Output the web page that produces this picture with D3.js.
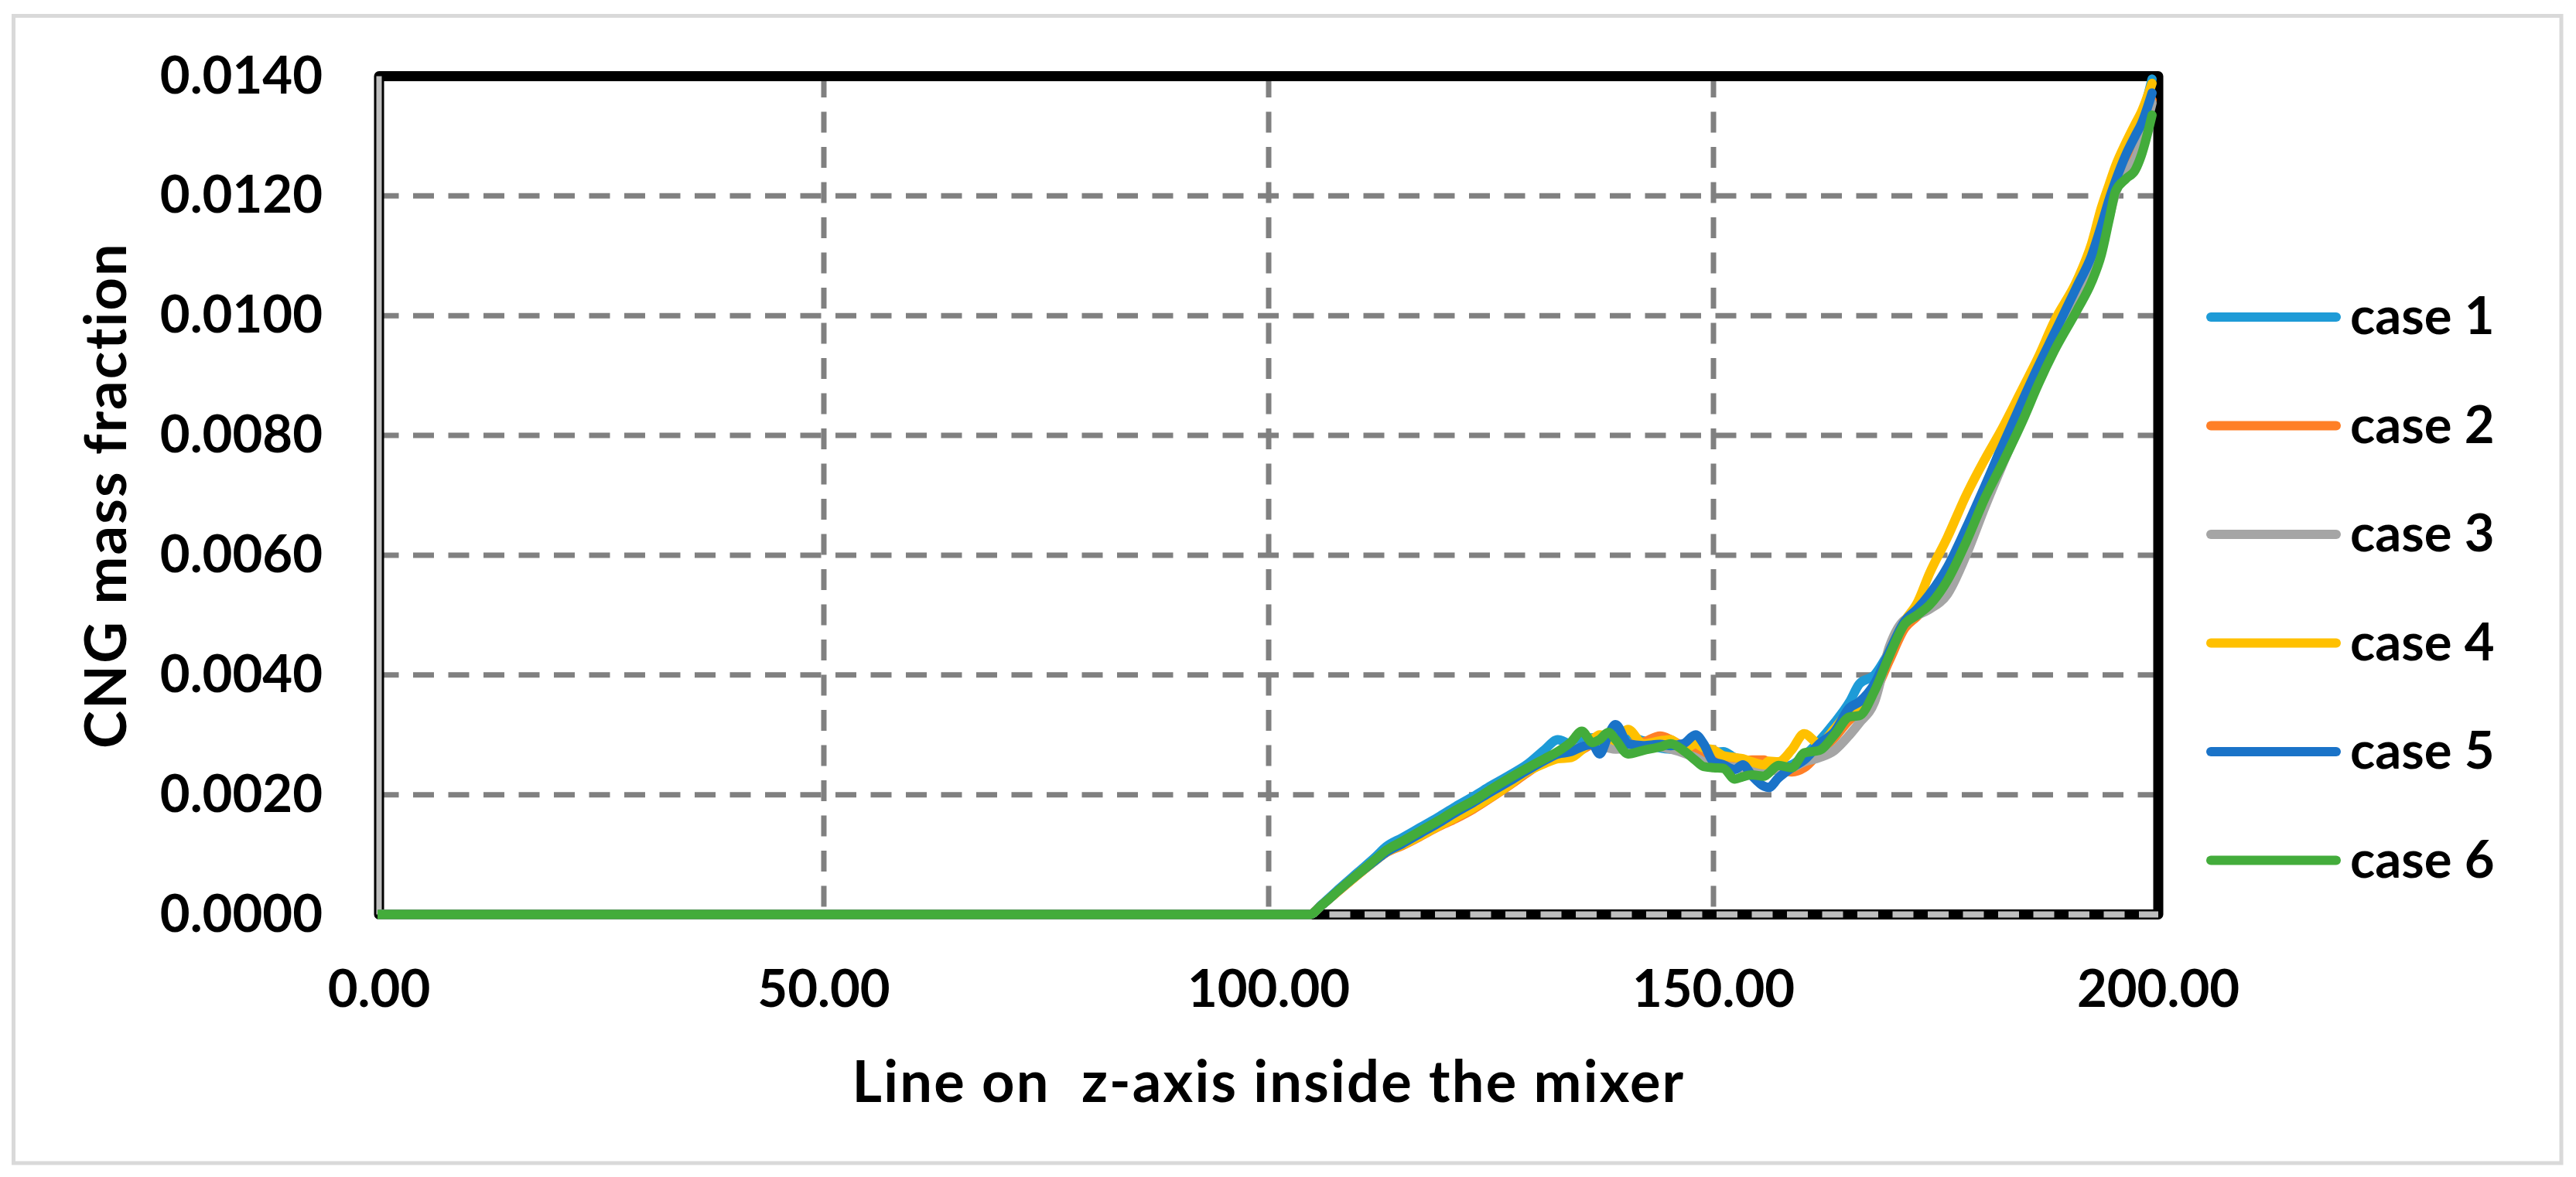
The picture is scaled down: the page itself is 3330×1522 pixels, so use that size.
<!DOCTYPE html>
<html>
<head>
<meta charset="utf-8">
<script src="https://cdn.jsdelivr.net/npm/d3@7"></script>
<style>
  html, body { margin: 0; padding: 0; background: #ffffff; }
  svg { display: block; }
  text { font-family: "Lato", "Open Sans", "Liberation Sans", sans-serif; font-weight: 700; fill: #000; }
</style>
</head>
<body>
<svg id="chart" width="3330" height="1522"></svg>
<script>
// ---------------- data ----------------
const xValues = [0, 104.6, 106, 108, 110, 112, 113.2, 115, 117, 119,
  121, 123, 125, 127, 129, 131, 132.5, 134, 135.2, 136.4,
  137.2, 138.2, 139, 140.4, 142.1, 144, 145.2, 146.6, 148, 148.9,
  150, 151.1, 152.4, 153.3, 154.3, 155.7, 156.2, 157.3, 158.8, 160.2,
  161.9, 163.6, 165.3, 166.4, 168.1, 169.8, 171.5, 172.9, 174.3, 176.3,
  178.4, 180.5, 182.4, 184.8, 186.5, 188.3, 190.9, 192.5, 193.6, 194.5,
  195.2, 196.4, 197.4, 198.1, 199.3];

const case1 = [0, 0, 0.00017, 0.00044, 0.00070, 0.00096, 0.00113, 0.00128, 0.00145, 0.00162,
  0.00180, 0.00197, 0.00215, 0.00232, 0.00250, 0.00275, 0.00292, 0.00285, 0.00290, 0.00295,
  0.00292, 0.00298, 0.00305, 0.00298, 0.00290, 0.00278, 0.00276, 0.00282, 0.00280, 0.00268,
  0.00270, 0.00272, 0.00262, 0.00258, 0.00255, 0.00250, 0.00248, 0.00245, 0.00250, 0.00265,
  0.00290, 0.00320, 0.00355, 0.00385, 0.00400, 0.00440, 0.00490, 0.00505, 0.00530, 0.00578,
  0.00642, 0.00712, 0.00782, 0.00862, 0.00918, 0.00975, 0.01055, 0.01105, 0.01148, 0.01195,
  0.01228, 0.01272, 0.01305, 0.01330, 0.01395];

const case2 = [0, 0, 0.00016, 0.00041, 0.00066, 0.00090, 0.00103, 0.00115, 0.00130, 0.00146,
  0.00160, 0.00176, 0.00195, 0.00215, 0.00236, 0.00255, 0.00262, 0.00268, 0.00275, 0.00285,
  0.00290, 0.00288, 0.00286, 0.00285, 0.00288, 0.00298, 0.00292, 0.00280, 0.00270, 0.00262,
  0.00260, 0.00262, 0.00258, 0.00255, 0.00258, 0.00258, 0.00252, 0.00245, 0.00238, 0.00245,
  0.00270, 0.00295, 0.00325, 0.00338, 0.00370, 0.00425, 0.00478, 0.00498, 0.00520, 0.00562,
  0.00625, 0.00698, 0.00760, 0.00838, 0.00895, 0.00955, 0.01030, 0.01078, 0.01122, 0.01175,
  0.01212, 0.01248, 0.01268, 0.01290, 0.01360];

const case3 = [0, 0, 0.00016, 0.00042, 0.00067, 0.00091, 0.00105, 0.00118, 0.00133, 0.00150,
  0.00165, 0.00181, 0.00199, 0.00218, 0.00238, 0.00256, 0.00266, 0.00275, 0.00280, 0.00284,
  0.00282, 0.00278, 0.00276, 0.00278, 0.00282, 0.00280, 0.00276, 0.00270, 0.00262, 0.00255,
  0.00250, 0.00248, 0.00246, 0.00244, 0.00242, 0.00240, 0.00240, 0.00242, 0.00245, 0.00255,
  0.00262, 0.00274, 0.00300, 0.00320, 0.00355, 0.00448, 0.00492, 0.00500, 0.00510, 0.00535,
  0.00600, 0.00680, 0.00748, 0.00830, 0.00890, 0.00948, 0.01020, 0.01068, 0.01112, 0.01165,
  0.01205, 0.01240, 0.01262, 0.01290, 0.01355];

const case4 = [0, 0, 0.00016, 0.00041, 0.00066, 0.00090, 0.00104, 0.00116, 0.00131, 0.00147,
  0.00162, 0.00178, 0.00196, 0.00216, 0.00238, 0.00252, 0.00260, 0.00262, 0.00275, 0.00292,
  0.00300, 0.00296, 0.00290, 0.00309, 0.00285, 0.00290, 0.00292, 0.00275, 0.00285, 0.00278,
  0.00275, 0.00265, 0.00262, 0.00260, 0.00255, 0.00250, 0.00256, 0.00255, 0.00275, 0.00302,
  0.00285, 0.00310, 0.00340, 0.00350, 0.00380, 0.00440, 0.00490, 0.00520, 0.00570, 0.00630,
  0.00700, 0.00760, 0.00810, 0.00880, 0.00930, 0.00990, 0.01060, 0.01120, 0.01180, 0.01220,
  0.01250, 0.01290, 0.01320, 0.01340, 0.01388];

const case5 = [0, 0, 0.00016, 0.00042, 0.00067, 0.00090, 0.00104, 0.00118, 0.00135, 0.00152,
  0.00170, 0.00187, 0.00205, 0.00222, 0.00240, 0.00257, 0.00268, 0.00272, 0.00280, 0.00284,
  0.00268, 0.00300, 0.00317, 0.00285, 0.00282, 0.00284, 0.00282, 0.00285, 0.00300, 0.00285,
  0.00255, 0.00250, 0.00242, 0.00250, 0.00232, 0.00214, 0.00212, 0.00228, 0.00245, 0.00258,
  0.00285, 0.00305, 0.00345, 0.00355, 0.00385, 0.00440, 0.00490, 0.00510, 0.00535, 0.00580,
  0.00645, 0.00715, 0.00780, 0.00860, 0.00915, 0.00970, 0.01050, 0.01100, 0.01150, 0.01195,
  0.01225, 0.01270, 0.01300, 0.01320, 0.01372];

const case6 = [0, 0, 0.00016, 0.00042, 0.00067, 0.00092, 0.00107, 0.00122, 0.00139, 0.00156,
  0.00174, 0.00190, 0.00209, 0.00227, 0.00244, 0.00260, 0.00272, 0.00288, 0.00306, 0.00287,
  0.00292, 0.00304, 0.00292, 0.00268, 0.00274, 0.00280, 0.00285, 0.00274, 0.00257, 0.00247,
  0.00245, 0.00244, 0.00226, 0.00230, 0.00233, 0.00231, 0.00236, 0.00249, 0.00245, 0.00270,
  0.00274, 0.00300, 0.00330, 0.00332, 0.00373, 0.00433, 0.00485, 0.00500, 0.00517, 0.00558,
  0.00622, 0.00695, 0.00751, 0.00826, 0.00885, 0.00941, 0.01010, 0.01056, 0.01102, 0.01162,
  0.01208, 0.01229, 0.01243, 0.01268, 0.01335];

const seriesNames = ["case 1", "case 2", "case 3", "case 4", "case 5", "case 6"];
const seriesColors = ["#1E9BD7", "#FF7F27", "#A5A5A5", "#FFC000", "#1A73C8", "#43AC3B"];
const seriesValues = [case1, case2, case3, case4, case5, case6];

const xTicks = [0, 50, 100, 150, 200];
const yTicks = [0, 0.002, 0.004, 0.006, 0.008, 0.010, 0.012, 0.014];
const xTitle = "Line on  z-axis inside the mixer";
const yTitle = "CNG mass fraction";

// ---------------- layout ----------------
const svg = d3.select("#chart");
const plot = { left: 490, right: 2790, top: 98.5, bottom: 1182.5 };

const x = d3.scaleLinear().domain([0, 200]).range([plot.left, plot.right]);
const y = d3.scaleLinear().domain([0, 0.014]).range([plot.bottom, plot.top]);

// outer frame
svg.append("rect")
  .attr("x", 17.5).attr("y", 20.5)
  .attr("width", 3311 - 17.5).attr("height", 1504 - 20.5)
  .attr("fill", "#ffffff").attr("stroke", "#D9D9D9").attr("stroke-width", 5);

// gridlines
const grid = svg.append("g");
grid.selectAll("line.h")
  .data(yTicks.filter(v => v > 0 && v < 0.014))
  .join("line").attr("class", "h")
  .attr("x1", plot.left - 1.5).attr("x2", plot.right)
  .attr("y1", d => y(d)).attr("y2", d => y(d))
  .attr("stroke", "#808080").attr("stroke-width", 7)
  .attr("stroke-dasharray", "27,18.5");
grid.selectAll("line.v")
  .data(xTicks.filter(v => v > 0 && v < 200))
  .join("line").attr("class", "v")
  .attr("x1", d => x(d)).attr("x2", d => x(d))
  .attr("y1", plot.bottom).attr("y2", plot.top)
  .attr("stroke", "#808080").attr("stroke-width", 7)
  .attr("stroke-dasharray", "27,18.5").attr("stroke-dashoffset", -10);

// plot border
svg.append("rect")
  .attr("x", plot.left).attr("y", plot.top)
  .attr("width", plot.right - plot.left).attr("height", plot.bottom - plot.top)
  .attr("fill", "none").attr("stroke", "#000").attr("stroke-width", 13)
  .attr("stroke-linejoin", "round");

// y axis line (solid light grey)
svg.append("line")
  .attr("x1", plot.left).attr("x2", plot.left)
  .attr("y1", plot.top).attr("y2", plot.bottom)
  .attr("stroke", "#BFBFBF").attr("stroke-width", 7);

// x axis line (dashed light grey)
svg.append("line")
  .attr("x1", plot.left).attr("x2", plot.right)
  .attr("y1", plot.bottom).attr("y2", plot.bottom)
  .attr("stroke", "#BFBFBF").attr("stroke-width", 8)
  .attr("stroke-dasharray", "27,18.5");

// series
svg.append("defs").append("clipPath").attr("id", "clip")
  .append("rect").attr("x", plot.left - 2).attr("y", 60)
  .attr("width", plot.right - plot.left + 20).attr("height", 1160);

const line = d3.line()
  .x(d => x(d[0]))
  .y(d => y(d[1]))
  .curve(d3.curveMonotoneX);

const gSeries = svg.append("g").attr("clip-path", "url(#clip)");
seriesValues.forEach((vals, i) => {
  const pts = xValues.map((xv, j) => [xv, vals[j]]);
  gSeries.append("path")
    .datum(pts)
    .attr("d", line)
    .attr("fill", "none")
    .attr("stroke", seriesColors[i])
    .attr("stroke-width", 12)
    .attr("stroke-linejoin", "round")
    .attr("stroke-linecap", "round");
});

// y tick labels
svg.append("g").selectAll("text")
  .data(yTicks).join("text")
  .attr("x", 417).attr("y", d => y(d) + 22)
  .attr("text-anchor", "end")
  .attr("font-size", 67)
  .text(d => d3.format(".4f")(d));

// x tick labels
svg.append("g").selectAll("text")
  .data(xTicks).join("text")
  .attr("x", d => x(d)).attr("y", 1302)
  .attr("text-anchor", "middle")
  .attr("font-size", 67)
  .text(d => d3.format(".2f")(d));

// axis titles
svg.append("text")
  .attr("x", (plot.left + plot.right) / 2).attr("y", 1425)
  .attr("text-anchor", "middle")
  .attr("font-size", 74)
  .attr("letter-spacing", 2.2)
  .style("white-space", "pre")
  .text(xTitle);

svg.append("text")
  .attr("transform", `translate(163, ${(plot.top + plot.bottom) / 2}) rotate(-90)`)
  .attr("text-anchor", "middle")
  .attr("font-size", 74)
  .attr("letter-spacing", 2.2)
  .text(yTitle);

// legend
const legendY0 = 410, legendStep = 140.5;
const legend = svg.append("g");
seriesNames.forEach((name, i) => {
  const cy = legendY0 + i * legendStep;
  legend.append("line")
    .attr("x1", 2858).attr("x2", 3020)
    .attr("y1", cy).attr("y2", cy)
    .attr("stroke", seriesColors[i]).attr("stroke-width", 12)
    .attr("stroke-linecap", "round");
  legend.append("text")
    .attr("x", 3038).attr("y", cy + 22)
    .attr("font-size", 67)
    .text(name);
});
</script>
</body>
</html>
